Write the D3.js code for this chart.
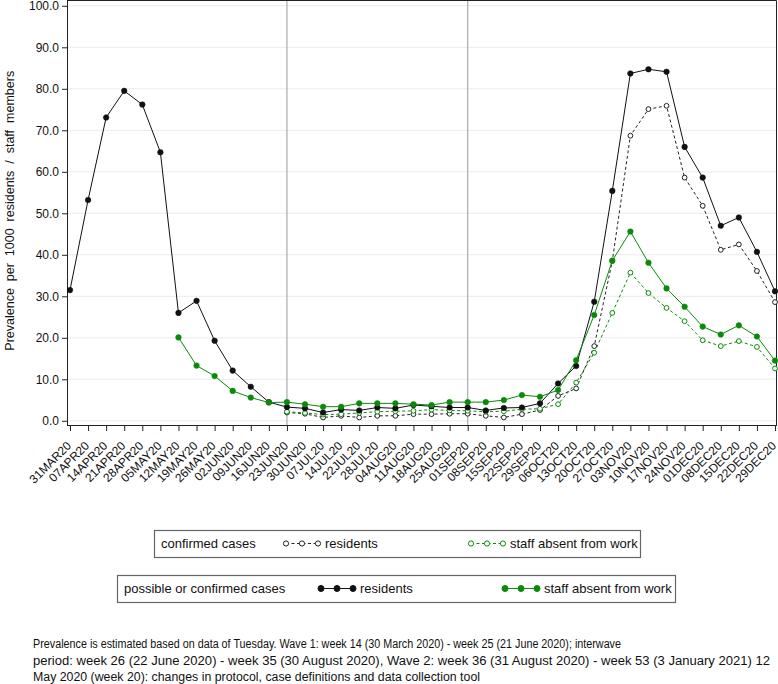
<!DOCTYPE html>
<html>
<head>
<meta charset="utf-8">
<script src="https://cdn.jsdelivr.net/npm/d3@7"></script>
<style>
  body { margin: 0; background: #fff; }
  svg { display: block; font-family: "Liberation Sans", Arial, Helvetica, sans-serif; }
</style>
</head>
<body>
<svg id="chart" width="778" height="684"></svg>
<script>
const weeks = ["31MAR20","07APR20","14APR20","21APR20","28APR20","05MAY20","12MAY20","19MAY20","26MAY20","02JUN20","09JUN20","16JUN20","23JUN20","30JUN20","07JUL20","14JUL20","22JUL20","28JUL20","04AUG20","11AUG20","18AUG20","25AUG20","01SEP20","08SEP20","15SEP20","22SEP20","29SEP20","06OCT20","13OCT20","20OCT20","27OCT20","03NOV20","10NOV20","17NOV20","24NOV20","01DEC20","08DEC20","15DEC20","22DEC20","29DEC20"];

const residentsPossible = [31.5,53.2,73.1,79.5,76.2,64.7,26.0,28.9,19.3,12.1,8.2,4.5,3.3,3.0,2.0,2.7,2.5,3.2,3.0,3.8,3.5,3.2,3.2,2.5,3.1,3.2,4.2,9.0,13.2,28.7,55.4,83.7,84.7,84.1,66.0,58.6,47.0,49.0,40.7,31.2];
const staffPossible = [null,null,null,null,null,null,20.1,13.3,10.8,7.2,5.6,4.4,4.5,4.0,3.4,3.4,4.2,4.2,4.2,4.0,3.8,4.5,4.5,4.5,5.0,6.2,5.8,7.4,14.6,25.5,38.6,45.6,38.1,31.9,27.5,22.7,20.8,23.0,20.3,14.5];
const residentsConfirmed = [null,null,null,null,null,null,null,null,null,null,null,null,2.0,1.7,0.8,1.2,0.8,1.2,1.2,1.6,1.6,1.7,1.7,1.2,0.8,1.6,2.6,6.0,7.8,18.0,38.5,68.7,75.1,75.9,58.6,51.8,41.2,42.5,36.1,28.6];
const staffConfirmed = [null,null,null,null,null,null,null,null,null,null,null,null,2.2,1.9,1.5,1.6,1.9,2.2,2.3,2.4,2.7,2.5,2.4,2.2,2.3,2.8,2.9,4.0,9.2,16.4,26.0,35.7,30.8,27.2,24.0,19.4,18.0,19.2,17.8,12.6];

const yTicks = [0,10,20,30,40,50,60,70,80,90,100];
const refLines = ["23JUN20","01SEP20"];

const yTitle = "Prevalence  per  1000  residents  /  staff  members";
const footnote = [
  "Prevalence is estimated based on data of Tuesday. Wave 1: week 14 (30 March 2020) - week 25 (21 June 2020); interwave",
  "period: week 26 (22 June 2020) - week 35 (30 August 2020), Wave 2: week 36 (31 August 2020) - week 53 (3 January 2021) 12",
  "May 2020 (week 20): changes in protocol, case definitions and data collection tool"
];
const footnoteWidths = [588, 737, 447];

const GREEN = "#0a8a0a";
const series = [
  {values: residentsConfirmed, color: "#222", dash: "3,2.5", open: true},
  {values: staffConfirmed, color: GREEN, dash: "3,2.5", open: true},
  {values: residentsPossible, color: "#111", dash: null, open: false},
  {values: staffPossible, color: GREEN, dash: null, open: false}
];

const svg = d3.select("#chart");
const plot = {left: 67, right: 777, top: 0.5, bottom: 425};

const x = d3.scalePoint().domain(weeks).range([70, 775]);
const y = d3.scaleLinear().domain([0, 100]).range([420.8, 5.8]);

// gridlines
svg.append("g").selectAll("line").data(yTicks).join("line")
  .attr("x1", plot.left).attr("x2", plot.right)
  .attr("y1", d => y(d)).attr("y2", d => y(d))
  .attr("stroke", "#ebebeb").attr("stroke-width", 1);

// reference lines
svg.append("g").selectAll("line").data(refLines).join("line")
  .attr("x1", d => x(d)).attr("x2", d => x(d))
  .attr("y1", plot.top).attr("y2", plot.bottom)
  .attr("stroke", "#ababab").attr("stroke-width", 1.2);

// frame top/right
svg.append("path")
  .attr("d", `M${plot.left},${plot.top}H${plot.right - 0.5}V${plot.bottom}`)
  .attr("fill", "none").attr("stroke", "#222").attr("stroke-width", 1);

// y axis
const yAxis = svg.append("g").attr("transform", `translate(${plot.left},0)`)
  .call(d3.axisLeft(y).tickValues(yTicks).tickFormat(d3.format(".1f")).tickSize(5).tickPadding(3));
yAxis.select(".domain").attr("d", `M0.5,0V${plot.bottom}`).attr("stroke", "#222");
yAxis.selectAll(".tick line").attr("stroke", "#222");
yAxis.selectAll(".tick text").attr("font-size", 12).attr("fill", "#111")
  .attr("font-family", "Liberation Sans, Arial, sans-serif");

// x axis
const xAxis = svg.append("g").attr("transform", `translate(0,${plot.bottom})`)
  .call(d3.axisBottom(x).tickSize(6).tickPadding(2));
xAxis.select(".domain").attr("d", `M${plot.left},0.5H${plot.right}`).attr("stroke", "#222");
xAxis.selectAll(".tick line").attr("stroke", "#222");
xAxis.selectAll(".tick text").attr("font-size", 12).attr("fill", "#111")
  .attr("font-family", "Liberation Sans, Arial, sans-serif")
  .attr("text-anchor", "end")
  .attr("dy", "0.35em")
  .attr("transform", "translate(-1.5,18.5) rotate(-45)")
  .attr("y", 0).attr("x", 0);

// y title
svg.append("text")
  .attr("transform", `translate(14,${(plot.top + plot.bottom) / 2 - 2}) rotate(-90)`)
  .attr("text-anchor", "middle").attr("font-size", 12.5).attr("fill", "#111")
  .style("white-space", "pre")
  .text(yTitle);

// series
const lineGen = d3.line().defined(d => d.v != null).x(d => x(d.w)).y(d => y(d.v));
series.forEach(s => {
  const pts = s.values.map((v, i) => ({w: weeks[i], v}));
  svg.append("path").datum(pts)
    .attr("d", lineGen).attr("fill", "none")
    .attr("stroke", s.color).attr("stroke-width", 1)
    .attr("stroke-dasharray", s.dash);
  svg.append("g").selectAll("circle").data(pts.filter(d => d.v != null)).join("circle")
    .attr("cx", d => x(d.w)).attr("cy", d => y(d.v))
    .attr("r", s.open ? 2.4 : 2.8)
    .attr("fill", s.open ? "#fff" : s.color)
    .attr("stroke", s.color).attr("stroke-width", s.open ? 1 : 0.5);
});

// legends
function legendBox(bx, by, bw, bh, title, items) {
  const g = svg.append("g");
  g.append("rect").attr("x", bx + 0.5).attr("y", by + 0.5).attr("width", bw).attr("height", bh)
    .attr("fill", "#fff").attr("stroke", "#666").attr("stroke-width", 1.2);
  g.append("text").attr("x", bx + 7).attr("y", by + bh / 2 + 4.5)
    .attr("font-size", 13).attr("fill", "#111").text(title);
  items.forEach(it => {
    const cy = by + bh / 2;
    g.append("line").attr("x1", it.mx).attr("x2", it.mx + 32).attr("y1", cy).attr("y2", cy)
      .attr("stroke", it.color).attr("stroke-width", 1).attr("stroke-dasharray", it.dash);
    [0, 16, 32].forEach(dx => {
      g.append("circle").attr("cx", it.mx + dx).attr("cy", cy).attr("r", it.open ? 2.6 : 3)
        .attr("fill", it.open ? "#fff" : it.color).attr("stroke", it.color).attr("stroke-width", 1);
    });
    g.append("text").attr("x", it.mx + 39).attr("y", cy + 4.5)
      .attr("font-size", 13).attr("fill", "#111").text(it.label);
  });
}
legendBox(154, 530, 486, 27, "confirmed cases", [
  {mx: 286, color: "#222", dash: "3,2.5", open: true, label: "residents"},
  {mx: 471, color: GREEN, dash: "3,2.5", open: true, label: "staff absent from work"}
]);
legendBox(117, 575, 558, 27, "possible or confirmed cases", [
  {mx: 321, color: "#111", dash: null, open: false, label: "residents"},
  {mx: 505, color: GREEN, dash: null, open: false, label: "staff absent from work"}
]);

// footnote
svg.append("g").selectAll("text").data(footnote).join("text")
  .attr("x", 33).attr("y", (d, i) => 648 + i * 16.5)
  .attr("font-size", 12.5).attr("fill", "#111")
  .attr("font-family", "Liberation Sans Narrow, Liberation Sans, Arial, sans-serif")
  .attr("textLength", (d, i) => footnoteWidths[i])
  .attr("lengthAdjust", "spacingAndGlyphs")
  .text(d => d);
</script>
</body>
</html>
